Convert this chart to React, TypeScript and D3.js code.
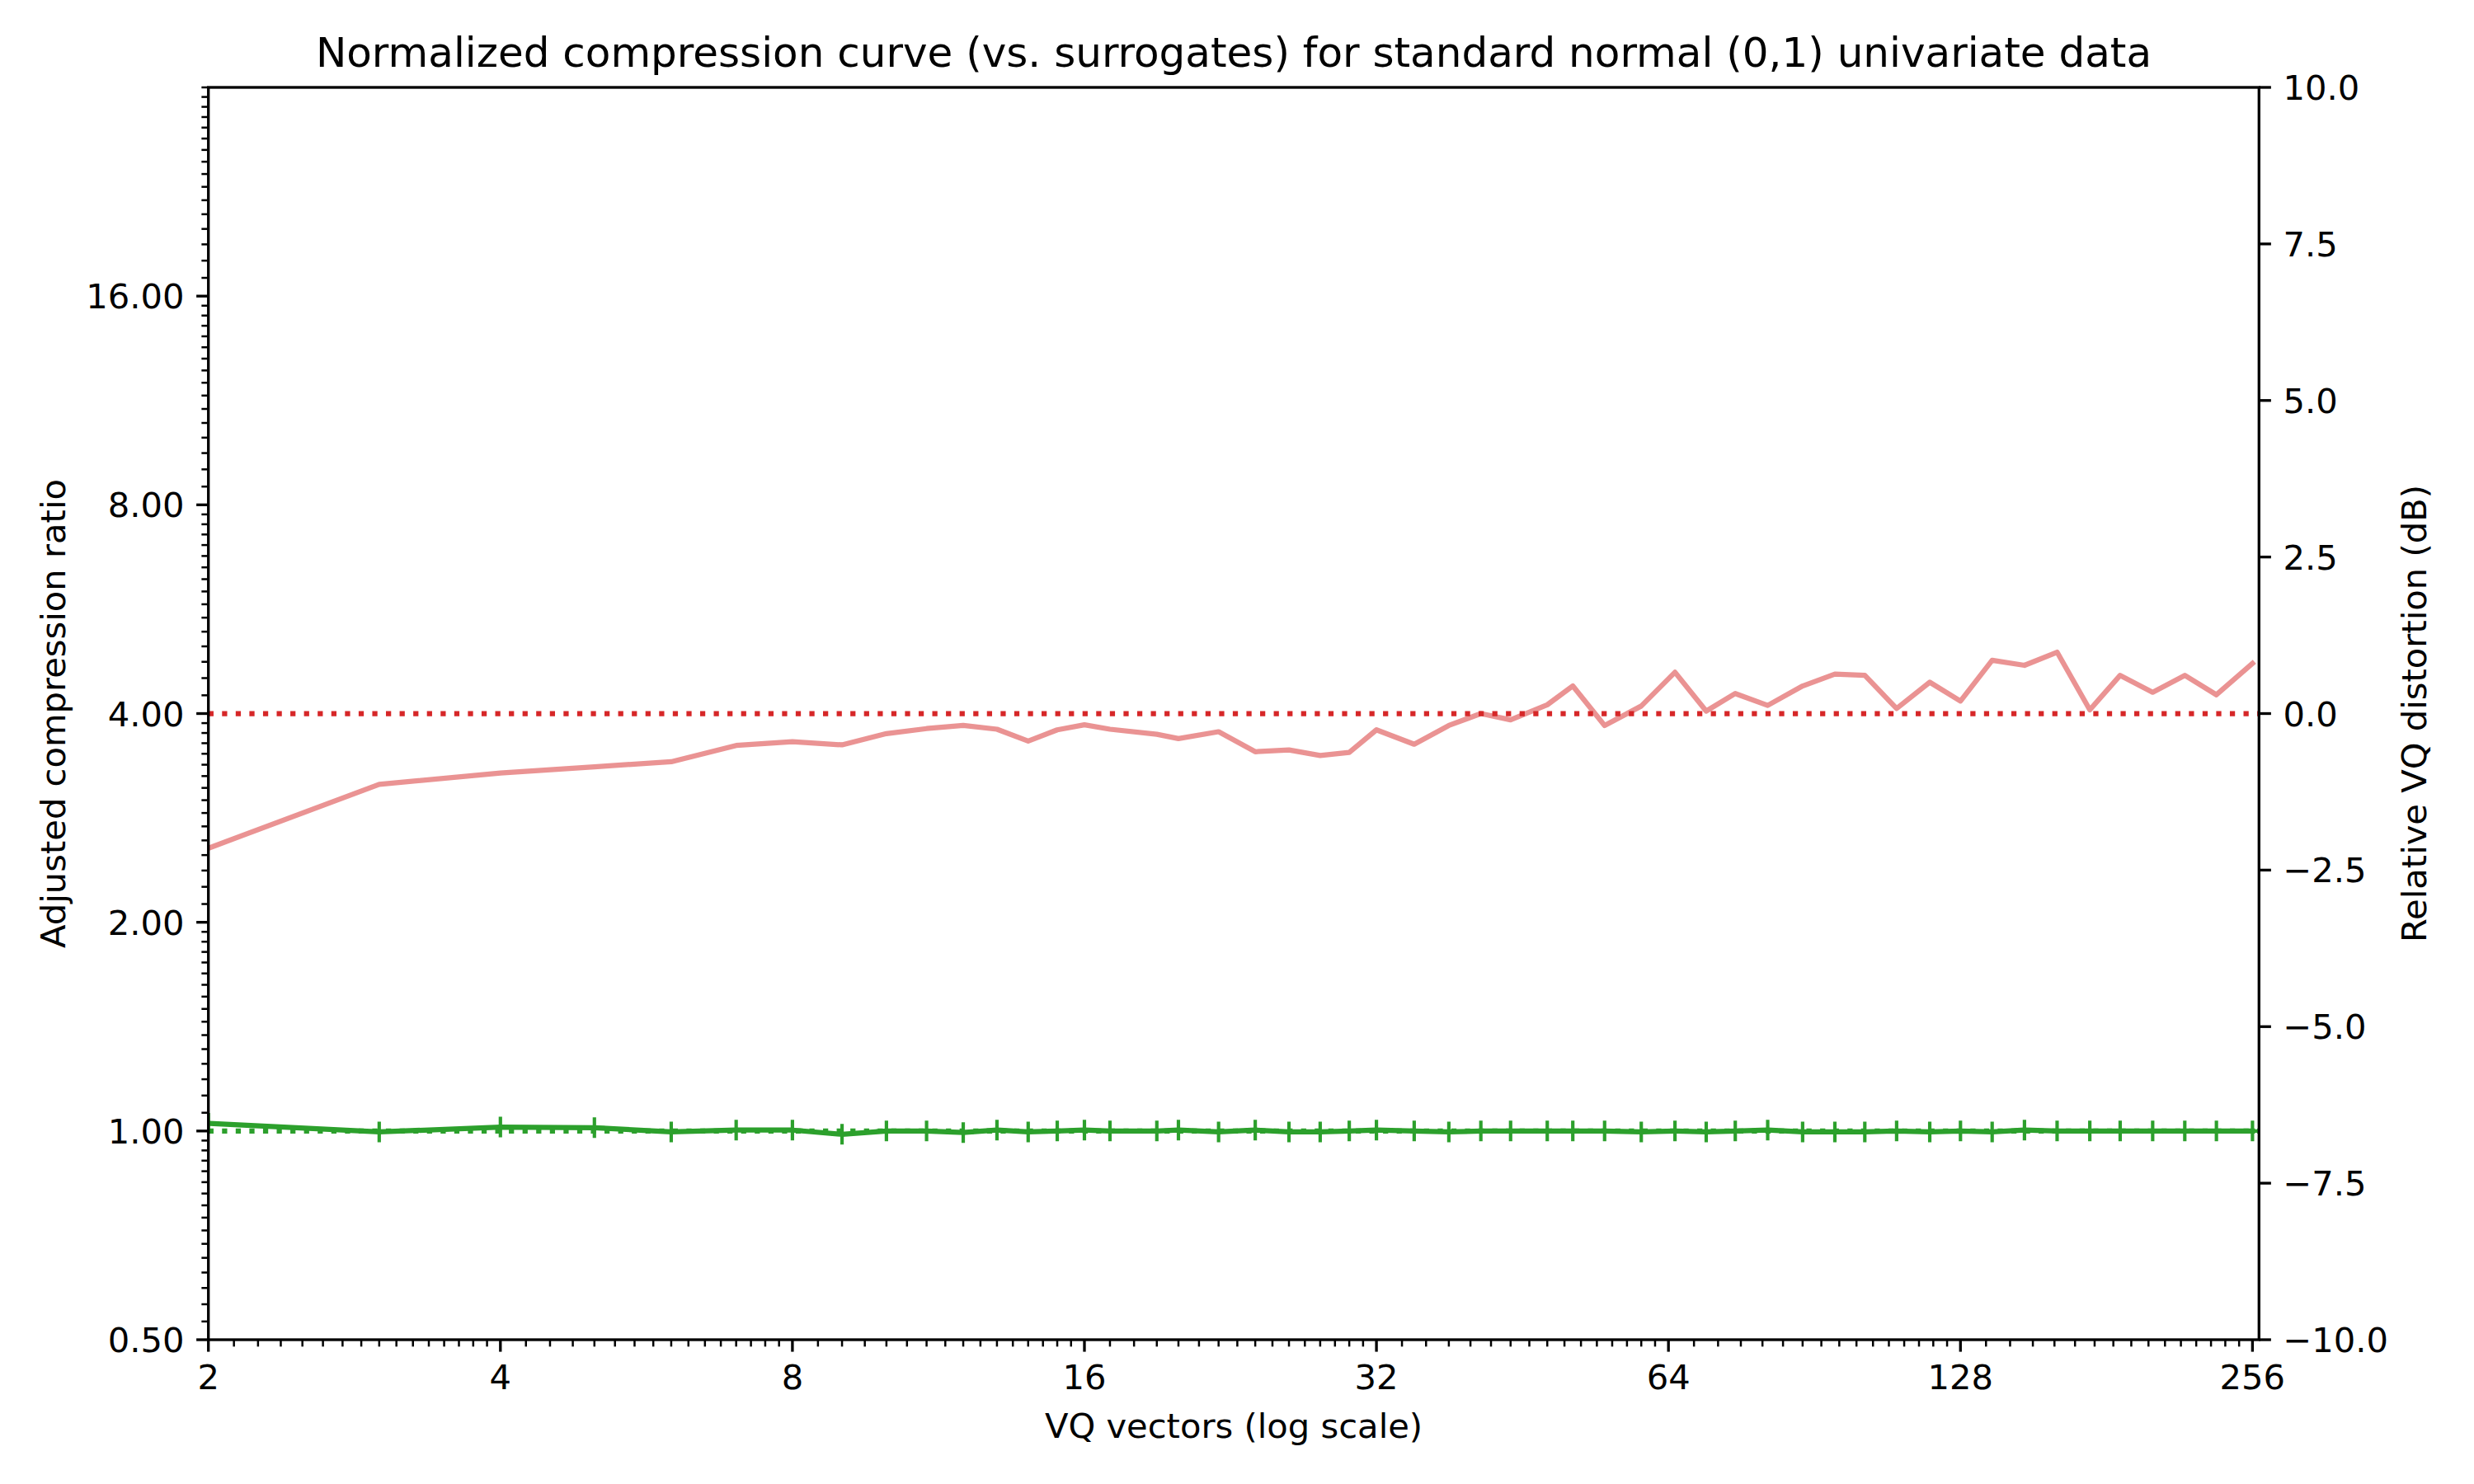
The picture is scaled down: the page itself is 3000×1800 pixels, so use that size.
import React from "react";
import * as d3 from "d3";

// ---- data ----
const VQ_VECTORS = [
  2, 3, 4, 5, 6, 7, 8, 9, 10, 11, 12, 13, 14, 15, 16, 17, 19, 20, 22, 24, 26,
  28, 30, 32, 35, 38, 41, 44, 48, 51, 55, 60, 65, 70, 75, 81, 88, 95, 102, 110,
  119, 128, 138, 149, 161, 174, 187, 202, 218, 235, 256,
];
const COMPRESSION_RATIO = [
  1.026, 0.997, 1.013, 1.011, 0.997, 1.003, 1.003, 0.989, 1.0, 1.0, 0.995,
  1.003, 0.997, 1.0, 1.003, 1.0, 1.0, 1.003, 0.997, 1.003, 0.997, 0.997, 1.0,
  1.003, 1.0, 0.997, 1.0, 1.0, 1.0, 1.0, 1.0, 0.997, 1.0, 0.997, 1.0, 1.003,
  0.997, 0.997, 0.997, 1.0, 0.997, 1.0, 0.997, 1.003, 1.0, 1.0, 1.0, 1.0, 1.0,
  1.0, 1.0,
];
const DISTORTION_DB = [
  -2.15, -1.13, -0.95, -0.85, -0.77, -0.51, -0.45, -0.5, -0.32, -0.24, -0.19,
  -0.25, -0.44, -0.26, -0.18, -0.25, -0.33, -0.4, -0.29, -0.61, -0.58, -0.67,
  -0.62, -0.26, -0.49, -0.19, 0.0, -0.1, 0.14, 0.44, -0.19, 0.12, 0.66, 0.04,
  0.32, 0.13, 0.44, 0.63, 0.61, 0.08, 0.5, 0.2, 0.85, 0.77, 0.98, 0.06, 0.61,
  0.34, 0.61, 0.3, 0.8,
];
const X_TICKS = [2, 4, 8, 16, 32, 64, 128, 256];
const LEFT_TICKS = [0.5, 1, 2, 4, 8, 16];
const RIGHT_TICKS = [-10, -7.5, -5, -2.5, 0, 2.5, 5, 7.5, 10];
const X_DOMAIN: [number, number] = [2, 260];
const LEFT_DOMAIN: [number, number] = [0.5, 32];
const RIGHT_DOMAIN: [number, number] = [-10, 10];
const RATIO_REFERENCE = 1;
const DB_REFERENCE = 0;

const TITLE =
  "Normalized compression curve (vs. surrogates) for standard normal (0,1) univariate data";
const X_LABEL = "VQ vectors (log scale)";
const LEFT_LABEL = "Adjusted compression ratio";
const RIGHT_LABEL = "Relative VQ distortion (dB)";

// ---- layout ----
const W = 3000;
const H = 1800;
const L = 252.7;
const R = 2739.3;
const T = 106;
const B = 1625;
const PT = 300 / 72;
const FONT = "DejaVu Sans";
const FS = 10 * PT;
const MAJOR = 3.5 * PT;
const MINOR = 2 * PT;
const PAD = 3.5 * PT;
const RED = "#d62728";
const GREEN = "#2ca02c";

function minorTicks(lo: number, hi: number): number[] {
  const out: number[] = [];
  for (let n = -2; n <= 9; n++) {
    const base = Math.pow(2, n);
    for (let j = 1; j <= 16; j++) {
      const v = base * (1 + j / 16);
      if (v >= lo - 1e-9 && v <= hi + 1e-9) out.push(v);
    }
  }
  return out;
}

const fmtRight = (v: number) => {
  const s = Math.abs(v).toFixed(1);
  return v < 0 ? "\u2212" + s : s;
};

export default function App() {
  const x = d3.scaleLog().base(2).domain(X_DOMAIN).range([L, R]);
  const yL = d3.scaleLog().base(2).domain(LEFT_DOMAIN).range([B, T]);
  const yR = d3.scaleLinear().domain(RIGHT_DOMAIN).range([B, T]);

  const greenPts = VQ_VECTORS.map((v, i) => [v, COMPRESSION_RATIO[i]] as [number, number]);
  const redPts = VQ_VECTORS.map((v, i) => [v, DISTORTION_DB[i]] as [number, number]);

  const greenLine = d3
    .line<[number, number]>()
    .x((d) => x(d[0]))
    .y((d) => yL(d[1]))(greenPts) as string;
  const redLine = d3
    .line<[number, number]>()
    .x((d) => x(d[0]))
    .y((d) => yR(d[1]))(redPts) as string;

  const ms = 6 * PT / 2;
  const markers = greenPts
    .map((d) => {
      const cx = x(d[0]);
      const cy = yL(d[1]);
      return `M${cx - ms},${cy}H${cx + ms}M${cx},${cy - ms}V${cy + ms}`;
    })
    .join("");

  const xMinor = minorTicks(X_DOMAIN[0], X_DOMAIN[1]).filter((v) => !X_TICKS.includes(v));
  const yMinor = minorTicks(LEFT_DOMAIN[0], LEFT_DOMAIN[1]).filter((v) => !LEFT_TICKS.includes(v));

  const lw = 1.5 * PT;
  const dots = `${1 * lw} ${1.65 * lw}`;
  const axisW = 0.8 * PT;

  return (
    <svg
      width={W}
      height={H}
      viewBox={`0 0 ${W} ${H}`}
      style={{ position: "absolute", left: 0, top: 0, background: "#fff" }}
      fontFamily={FONT}
    >
      <rect x={0} y={0} width={W} height={H} fill="#fff" />
      <defs>
        <clipPath id="plotclip">
          <rect x={L} y={T} width={R - L} height={B - T} />
        </clipPath>
      </defs>

      {/* left-axis series */}
      <g clipPath="url(#plotclip)">
        <line
          x1={L}
          x2={R}
          y1={yL(RATIO_REFERENCE)}
          y2={yL(RATIO_REFERENCE)}
          stroke={GREEN}
          strokeWidth={lw}
          strokeDasharray={dots}
        />
        <path
          d={greenLine}
          fill="none"
          stroke={GREEN}
          strokeWidth={lw}
          strokeLinejoin="round"
          strokeLinecap="square"
        />
        <path d={markers} fill="none" stroke={GREEN} strokeWidth={1 * PT} />
      </g>

      {/* right-axis series */}
      <g clipPath="url(#plotclip)">
        <path
          d={redLine}
          fill="none"
          stroke={RED}
          strokeOpacity={0.5}
          strokeWidth={lw}
          strokeLinejoin="round"
          strokeLinecap="square"
        />
        <line
          x1={L}
          x2={R}
          y1={yR(DB_REFERENCE)}
          y2={yR(DB_REFERENCE)}
          stroke={RED}
          strokeWidth={lw}
          strokeDasharray={dots}
        />
      </g>

      {/* spines */}
      <rect
        x={L}
        y={T}
        width={R - L}
        height={B - T}
        fill="none"
        stroke="#000"
        strokeWidth={axisW}
        strokeLinejoin="miter"
      />

      {/* x ticks */}
      {xMinor.map((v) => (
        <line key={"xm" + v} x1={x(v)} x2={x(v)} y1={B} y2={B + MINOR} stroke="#000" strokeWidth={0.6 * PT} />
      ))}
      {X_TICKS.map((v) => (
        <g key={"xt" + v}>
          <line x1={x(v)} x2={x(v)} y1={B} y2={B + MAJOR} stroke="#000" strokeWidth={axisW} />
          <text x={x(v)} y={B + MAJOR + PAD + 31} fontSize={FS} textAnchor="middle" fill="#000">
            {String(v)}
          </text>
        </g>
      ))}

      {/* left ticks */}
      {yMinor.map((v) => (
        <line key={"ym" + v} x1={L - MINOR} x2={L} y1={yL(v)} y2={yL(v)} stroke="#000" strokeWidth={0.6 * PT} />
      ))}
      {LEFT_TICKS.map((v) => (
        <g key={"yt" + v}>
          <line x1={L - MAJOR} x2={L} y1={yL(v)} y2={yL(v)} stroke="#000" strokeWidth={axisW} />
          <text x={L - MAJOR - PAD} y={yL(v) + 15} fontSize={FS} textAnchor="end" fill="#000">
            {v.toFixed(2)}
          </text>
        </g>
      ))}

      {/* right ticks */}
      {RIGHT_TICKS.map((v) => (
        <g key={"rt" + v}>
          <line x1={R} x2={R + MAJOR} y1={yR(v)} y2={yR(v)} stroke="#000" strokeWidth={axisW} />
          <text x={R + MAJOR + PAD} y={yR(v) + 15} fontSize={FS} textAnchor="start" fill="#000">
            {fmtRight(v)}
          </text>
        </g>
      ))}

      {/* labels */}
      <text x={(L + R) / 2} y={81} fontSize={12 * PT} textAnchor="middle" fill="#000">
        {TITLE}
      </text>
      <text x={(L + R) / 2} y={1744} fontSize={FS} textAnchor="middle" fill="#000">
        {X_LABEL}
      </text>
      <text
        transform={`translate(79,${(T + B) / 2}) rotate(-90)`}
        fontSize={FS}
        textAnchor="middle"
        fill="#000"
      >
        {LEFT_LABEL}
      </text>
      <text
        transform={`translate(2942,${(T + B) / 2}) rotate(-90)`}
        fontSize={FS}
        textAnchor="middle"
        fill="#000"
      >
        {RIGHT_LABEL}
      </text>
    </svg>
  );
}
